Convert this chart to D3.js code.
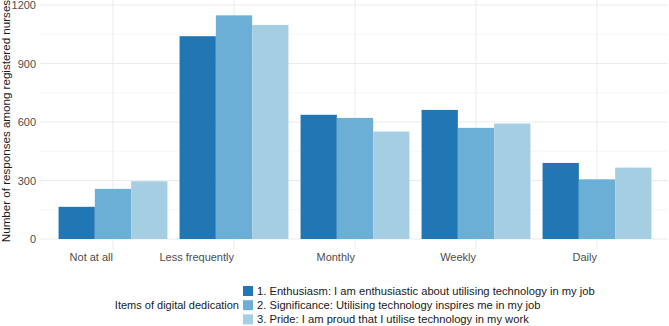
<!DOCTYPE html>
<html lang="en">
<head>
<meta charset="UTF-8">
<title>Digital dedication</title>
<script src="https://cdn.jsdelivr.net/npm/d3@7"></script>
<style>
  body { margin: 0; background: #fff; }
  text { font-family: "Liberation Sans", Arial, sans-serif; }
</style>
</head>
<body>
<svg id="svg" width="669" height="326"></svg>
<script>
const categories = ["Not at all", "Less frequently", "Monthly", "Weekly", "Daily"];
const items = [
  "1. Enthusiasm: I am enthusiastic about utilising technology in my job",
  "2. Significance: Utilising technology inspires me in my job",
  "3. Pride: I am proud that I utilise technology in my work"
];
const enthusiasm = [165, 1040, 637, 662, 390];
const significance = [257, 1147, 621, 570, 306];
const pride = [296, 1098, 551, 592, 366];
const yTicks = [0, 300, 600, 900, 1200];
const colors = ["#2077b4", "#6baed6", "#a6cee3"];

const series = [enthusiasm, significance, pride];
const data = categories.map((c, i) => ({
  cat: c,
  values: series.map((s, j) => ({ key: items[j], value: s[i] }))
}));

const svg = d3.select("#svg");
const panel = { left: 40, right: 668, top: 0, bottom: 249 };

const x = d3.scaleBand()
  .domain(categories)
  .range([52.5, 657.5])
  .paddingInner(0.1)
  .paddingOuter(0.05);

const x1 = d3.scaleBand()
  .domain(items)
  .range([0, x.bandwidth()]);

const y = d3.scaleLinear()
  .domain([0, 1200])
  .range([239, 5]);

// grid
const g = svg.append("g");
g.selectAll(".minor").data(d3.range(150, 1200, 300)).join("line")
  .attr("x1", panel.left).attr("x2", panel.right)
  .attr("y1", d => y(d)).attr("y2", d => y(d))
  .attr("stroke", "#f2f2f2").attr("stroke-width", 0.6);
g.selectAll(".major").data(yTicks).join("line")
  .attr("x1", panel.left).attr("x2", panel.right)
  .attr("y1", d => y(d)).attr("y2", d => y(d))
  .attr("stroke", "#ebebeb").attr("stroke-width", 1);
g.selectAll(".vgrid").data(categories).join("line")
  .attr("x1", d => x(d) + x.bandwidth() / 2).attr("x2", d => x(d) + x.bandwidth() / 2)
  .attr("y1", panel.top).attr("y2", panel.bottom)
  .attr("stroke", "#ebebeb").attr("stroke-width", 1);

// bars
svg.append("g").selectAll("g").data(data).join("g")
  .attr("transform", d => `translate(${x(d.cat)},0)`)
  .selectAll("rect").data(d => d.values).join("rect")
  .attr("x", d => x1(d.key))
  .attr("width", x1.bandwidth())
  .attr("y", d => y(d.value))
  .attr("height", d => y(0) - y(d.value))
  .attr("fill", (d, i) => colors[i]);

// y axis labels
const yAxis = d3.axisLeft(y).tickValues(yTicks).tickFormat(d3.format("d")).tickSize(0).tickPadding(4);
svg.append("g").attr("transform", `translate(${panel.left},0)`).call(yAxis)
  .call(a => a.select(".domain").remove())
  .selectAll("text").attr("font-size", 11).attr("fill", "#4d4d4d")
  .style("font-family", "Liberation Sans, Arial, sans-serif");

// x axis labels (right aligned at group centre)
const xAxis = d3.axisBottom(x).tickSize(0).tickPadding(0);
svg.append("g").attr("transform", "translate(0,253)").call(xAxis)
  .call(a => a.select(".domain").remove())
  .selectAll("text").attr("font-size", 11).attr("fill", "#4d4d4d")
  .attr("text-anchor", "end").attr("dy", "0.71em")
  .style("font-family", "Liberation Sans, Arial, sans-serif");

// y title
svg.append("text")
  .attr("transform", "translate(10,121) rotate(-90)")
  .attr("text-anchor", "middle")
  .attr("font-size", 11.6).attr("fill", "#1a1a1a")
  .text("Number of responses among registered nurses");

// legend
svg.append("text")
  .attr("x", 239).attr("y", 305.5).attr("dy", "0.35em")
  .attr("text-anchor", "end").attr("font-size", 11).attr("fill", "#1a1a1a")
  .text("Items of digital dedication");

const leg = svg.append("g").selectAll("g").data(items).join("g")
  .attr("transform", (d, i) => `translate(243,${291 + i * 14.2})`);
leg.append("rect")
  .attr("x", 0).attr("y", -5).attr("width", 10).attr("height", 10)
  .attr("fill", (d, i) => colors[i]);
leg.append("text")
  .attr("x", 14).attr("dy", "0.35em")
  .attr("font-size", 11.2).attr("fill", "#1a1a1a")
  .text(d => d);
</script>
</body>
</html>
